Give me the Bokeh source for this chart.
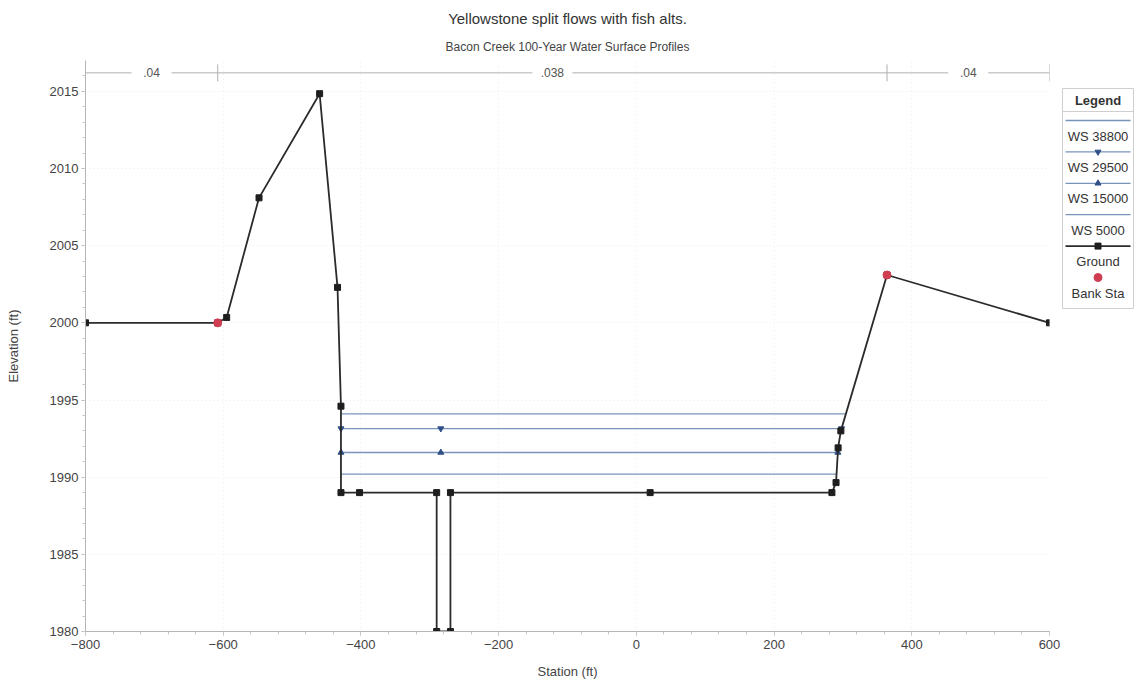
from bokeh.plotting import figure
from bokeh.models import Title, Range1d, FixedTicker
from bokeh.layouts import row
from bokeh.embed import file_html
from bokeh.resources import INLINE
from bokeh.core.properties import value

# ---------------- data ----------------
ground_station = [-800, -608, -595, -548, -460, -434, -429, -429, -402, -290, -290,
                  -270, -270, 20, 284, 290, 293, 297, 364, 600]
ground_elev = [2000.0, 2000.0, 2000.35, 2008.1, 2014.85, 2002.3, 1994.6, 1989.0, 1989.0,
               1989.0, 1980.0, 1980.0, 1989.0, 1989.0, 1989.0, 1989.65, 1991.9, 1993.0,
               2003.1, 2000.0]

bank_station = [-608, 364]
bank_elev = [2000.0, 2003.1]

ws_names = ["WS 38800", "WS 29500", "WS 15000", "WS 5000"]
ws_elev = [1994.1, 1993.15, 1991.6, 1990.2]
ws_left = [-429, -429, -429, -429]
ws_right = [304, 298, 292.6, 290.7]
ws_marker_station = [-429, -284]

n_values = [".04", ".038", ".04"]
n_breaks = [-800, -608, 364, 600]
n_line_elev = 2016.2

title_text = "Yellowstone split flows with fish alts."
subtitle_text = "Bacon Creek 100-Year Water Surface Profiles"
x_label = "Station (ft)"
y_label = "Elevation (ft)"
x_ticks = [-800, -600, -400, -200, 0, 200, 400, 600]
y_ticks = [1980, 1985, 1990, 1995, 2000, 2005, 2010, 2015]

FONT = "Liberation Sans"
WS_COLOR = "#7894ba"
WS_MARK = "#2f4f86"
GROUND = "#2b2b2b"
BANK = "#cf3d50"

H = 690
FRAME_TOP = 60
FRAME_BOTTOM = 631

# ---------------- main figure ----------------
p = figure(width=1061, height=H, output_backend="svg", toolbar_location=None,
           x_range=Range1d(-800, 600), y_range=Range1d(1980, 2017),
           min_border_left=85, min_border_right=12, min_border_top=FRAME_TOP,
           min_border_bottom=H - FRAME_BOTTOM, title=None)
p.outline_line_color = None
p.background_fill_color = "white"
p.border_fill_color = "white"

sub = Title(text=subtitle_text, align="center", text_font=FONT, text_font_size="12px",
            text_font_style="normal", text_color="#444444", standoff=13)
p.add_layout(sub, "above")
main_t = Title(text=title_text, align="center", text_font=FONT, text_font_size="15px",
               text_font_style="normal", text_color="#333333", standoff=9)
p.add_layout(main_t, "above")

for ax in (p.xaxis, p.yaxis):
    ax.axis_line_color = "#b5b5b5"
    ax.major_tick_line_color = "#b5b5b5"
    ax.minor_tick_line_color = "#c8c8c8"
    ax.major_tick_out = 4
    ax.major_tick_in = 0
    ax.minor_tick_out = 3
    ax.minor_tick_in = 0
    ax.major_label_text_font = FONT
    ax.major_label_text_font_size = "13px"
    ax.major_label_text_color = "#444444"
    ax.axis_label_text_font = FONT
    ax.axis_label_text_font_size = "13px"
    ax.axis_label_text_font_style = "normal"
    ax.axis_label_text_color = "#444444"

p.xaxis.ticker = FixedTicker(ticks=x_ticks, minor_ticks=list(range(-800, 601, 40)))
p.yaxis.ticker = FixedTicker(ticks=y_ticks, minor_ticks=list(range(1980, 2017, 1)))
p.xaxis.axis_label = x_label
p.yaxis.axis_label = y_label
p.xaxis.major_label_standoff = 4
p.xaxis.axis_label_standoff = 12
p.yaxis.major_label_standoff = 3
p.yaxis.axis_label_standoff = 26

p.xgrid.grid_line_color = "#ededed"
p.ygrid.grid_line_color = "#ededed"
p.xgrid.grid_line_dash = "1 3"
p.ygrid.grid_line_dash = "1 3"

# Manning's n annotation line
p.segment(x0=[n_breaks[0]], y0=[n_line_elev], x1=[n_breaks[-1]], y1=[n_line_elev],
          line_color="#b0b0b0", line_width=1)
p.segment(x0=n_breaks, y0=[n_line_elev - 0.55] * len(n_breaks),
          x1=n_breaks, y1=[n_line_elev + 0.55] * len(n_breaks),
          line_color="#b0b0b0", line_width=1)
n_mid = [(a + b) / 2 for a, b in zip(n_breaks[:-1], n_breaks[1:])]
p.rect(x=n_mid, y=[n_line_elev] * len(n_mid), width=40, height=14,
       width_units="screen", height_units="screen", fill_color="white", line_color=None)
p.text(x=n_mid, y=[n_line_elev] * len(n_mid), text=n_values, text_align="center",
       text_baseline="middle", text_font=value(FONT), text_font_size="12px",
       text_color="#555555")

# water surfaces
p.segment(x0=ws_left, y0=ws_elev, x1=ws_right, y1=ws_elev, line_color=WS_COLOR,
          line_width=1.3)
p.scatter(x=ws_marker_station + [ws_right[1]], y=[ws_elev[1]] * 3,
          marker="inverted_triangle", size=6, color=WS_MARK)
p.scatter(x=ws_marker_station + [ws_right[2]], y=[ws_elev[2]] * 3,
          marker="triangle", size=6, color=WS_MARK)

# ground
p.line(ground_station, ground_elev, line_color=GROUND, line_width=1.8)
p.scatter(ground_station, ground_elev, marker="square", size=6, color="#1e1e1e")

# bank stations
p.scatter(bank_station, bank_elev, marker="circle", size=8, color=BANK)

# ---------------- legend panel ----------------
# The row aligns this panel's frame with the main frame, so its y range is
# expressed in page pixels of that frame.
LW = 73
leg = figure(width=LW, height=H, output_backend="svg", toolbar_location=None,
             x_range=Range1d(0, LW), y_range=Range1d(FRAME_BOTTOM, FRAME_TOP),
             x_axis_type=None, y_axis_type=None, min_border=0)
leg.outline_line_color = None
leg.xgrid.visible = False
leg.ygrid.visible = False
leg.quad(left=[1], right=[LW - 1], top=[88], bottom=[308], fill_color="white",
         line_color="#cfcfcf")
leg.text(x=[LW / 2], y=[100], text=["Legend"], text_align="center", text_baseline="middle",
         text_font=value(FONT), text_font_size="13px", text_font_style="bold",
         text_color="#333333")
leg.segment(x0=[1], y0=[111], x1=[LW - 1], y1=[111], line_color="#cfcfcf")

labels = ws_names + ["Ground", "Bank Sta"]
line_y = [120 + 31.4 * i for i in range(len(labels))]
lab_y = [y + 15.5 for y in line_y]
leg.text(x=[LW / 2] * len(labels), y=lab_y, text=labels, text_align="center",
         text_baseline="middle", text_font=value(FONT), text_font_size="13px",
         text_color="#333333")
n_ws = len(ws_names)
leg.segment(x0=[4] * n_ws, y0=line_y[:n_ws], x1=[LW - 4] * n_ws, y1=line_y[:n_ws],
            line_color=WS_COLOR, line_width=1.3)
leg.scatter(x=[LW / 2], y=[line_y[1]], marker="inverted_triangle", size=6, color=WS_MARK)
leg.scatter(x=[LW / 2], y=[line_y[2]], marker="triangle", size=6, color=WS_MARK)
leg.segment(x0=[4], y0=[line_y[4]], x1=[LW - 4], y1=[line_y[4]], line_color=GROUND,
            line_width=1.8)
leg.scatter(x=[LW / 2], y=[line_y[4]], marker="square", size=6, color="#1e1e1e")
leg.scatter(x=[LW / 2], y=[line_y[5]], marker="circle", size=8, color=BANK)

layout = row(p, leg)
open("out.html", "w").write(file_html(layout, INLINE))
